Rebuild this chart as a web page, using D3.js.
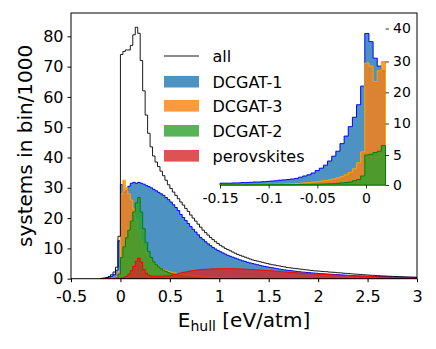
<!DOCTYPE html>
<html>
<head>
<meta charset="utf-8">
<script src="https://cdnjs.cloudflare.com/ajax/libs/d3/7.8.5/d3.min.js"></script>
<style>
body { margin: 0; background: #fff; }
text { font-family: "DejaVu Sans", sans-serif; fill: #000; }
</style>
</head>
<body>
<div id="vis-div"></div>
<script>
'use strict'

// main histogram: bins of 0.025 eV/atm starting at -0.2 (values = systems in bin / 1000)
const binStart = -0.2
const binWidth = 0.025

const allCounts = [
  0.1, 0.2, 0.4, 0.7, 1.3, 2.2, 3.8, 14,
  74, 75, 75.5, 75.5, 77, 80.5, 83, 81,
  72, 62, 54, 48, 43.5, 40.5, 38.5, 37,
  35.5, 34, 32.5, 31, 29.8, 28.6, 27.5, 26.4,
  25.3, 24.3, 23.2, 22.2, 21, 20, 19, 18,
  17, 16, 15.2, 14.4, 13.6, 12.9, 12.2, 11.6,
  11.0, 10.5, 10.0, 9.6, 9.2, 8.8, 8.4, 8.0,
  7.7, 7.4, 7.1, 6.8, 6.5, 6.2, 6.0, 5.8,
  5.6, 5.4, 5.2, 5.0, 4.8, 4.6, 4.5, 4.3,
  4.2, 4.0, 3.9, 3.7, 3.6, 3.5, 3.4, 3.3,
  3.2, 3.1, 3.0, 2.9, 2.8, 2.7, 2.6, 2.55,
  2.5, 2.4, 2.35, 2.3, 2.2, 2.15, 2.1, 2.0,
  1.95, 1.9, 1.8, 1.75, 1.7, 1.6, 1.55, 1.5,
  1.45, 1.4, 1.3, 1.25, 1.2, 1.15, 1.1, 1.05,
  1.0, 0.95, 0.9, 0.87, 0.83, 0.8, 0.75, 0.72,
  0.7, 0.66, 0.63, 0.6, 0.58, 0.55, 0.53, 0.5
]

const dcgat1Counts = [
  0.1, 0.15, 0.3, 0.5, 0.8, 1.3, 2.8, 12.5,
  31, 28.5, 29, 30.5, 31.5, 31.8, 31.5, 31.8,
  31.5, 31.2, 30.8, 30.4, 30, 29.5, 29, 28.5,
  28, 27.5, 26.8, 26.1, 25.3, 24.4, 23.5, 22.5,
  21.2, 20.2, 19.2, 18.2, 17.2, 16.3, 15.4, 14.5,
  13.6, 12.9, 12.2, 11.5, 10.9, 10.3, 9.8, 9.3,
  8.9, 8.5, 8.1, 7.7, 7.4, 7.1, 6.8, 6.5,
  6.2, 5.9, 5.7, 5.4, 5.2, 5.0, 4.8, 4.6,
  4.4, 4.2, 4.05, 3.9, 3.75, 3.6, 3.45, 3.3,
  3.15, 3.0, 2.9, 2.8, 2.7, 2.6, 2.5, 2.4,
  2.3, 2.2, 2.15, 2.05, 2.0, 1.9, 1.85, 1.8,
  1.7, 1.65, 1.6, 1.55, 1.5, 1.45, 1.4, 1.35,
  1.3, 1.25, 1.2, 1.15, 1.1, 1.05, 1.0, 0.97,
  0.93, 0.9, 0.86, 0.83, 0.8, 0.77, 0.74, 0.71,
  0.68, 0.65, 0.62, 0.6, 0.57, 0.55, 0.52, 0.5,
  0.48, 0.46, 0.44, 0.42, 0.4, 0.38, 0.36, 0.35
]

const dcgat3Counts = [
  0.02, 0.03, 0.05, 0.08, 0.12, 0.25, 0.6, 2.5,
  28, 32.5, 30, 28, 26, 23, 19.5, 16,
  12.8, 10.5, 8.8, 7.3, 6.2, 5.2, 4.5, 3.9,
  3.4, 3.0, 2.7, 2.4, 2.2, 2.0, 1.85, 1.7,
  1.55, 1.45, 1.35, 1.25, 1.15, 1.05, 0.95, 0.88,
  0.8, 0.73, 0.66, 0.6, 0.55, 0.5, 0.45, 0.4,
  0.36, 0.33, 0.3, 0.27, 0.24, 0.22, 0.2, 0.18,
  0.16, 0.14, 0.12, 0.11, 0.1, 0.09, 0.08, 0.07,
  0.06, 0.05, 0.05, 0.04, 0.04
]

const dcgat2Counts = [
  0.01, 0.01, 0.02, 0.03, 0.05, 0.1, 0.3, 1.5,
  7, 10.5, 13.5, 16, 19, 22, 25, 26.8,
  22, 16.5, 12, 9, 7, 5.6, 4.6, 3.9,
  3.3, 2.8, 2.4, 2.0, 1.75, 1.5, 1.3, 1.1,
  0.95, 0.82, 0.7, 0.6, 0.5, 0.42, 0.35, 0.3,
  0.25, 0.2, 0.16, 0.13, 0.1, 0.08, 0.06, 0.05,
  0.04
]

const perovskiteCounts = [
  0, 0, 0, 0, 0, 0, 0.02, 0.08,
  0.2, 0.4, 0.8, 1.5, 2.6, 4.0, 5.8, 6.8,
  5.5, 3.0, 1.8, 1.1, 0.9, 0.8, 0.8, 0.8,
  0.85, 0.9, 0.95, 1.0, 1.1, 1.3, 1.5, 1.7,
  1.9, 2.1, 2.25, 2.4, 2.55, 2.7, 2.8, 2.9,
  3.0, 3.05, 3.1, 3.15, 3.2, 3.25, 3.25, 3.3,
  3.3, 3.3, 3.3, 3.3, 3.3, 3.3, 3.25, 3.25,
  3.2, 3.2, 3.15, 3.1, 3.05, 3.0, 2.95, 2.9,
  2.85, 2.8, 2.75, 2.7, 2.65, 2.6, 2.5, 2.45,
  2.4, 2.3, 2.25, 2.2, 2.1, 2.05, 2.0, 1.95,
  1.9, 1.85, 1.8, 1.75, 1.7, 1.65, 1.6, 1.55,
  1.5, 1.45, 1.4, 1.35, 1.3, 1.27, 1.23, 1.2,
  1.15, 1.1, 1.07, 1.03, 1.0, 0.97, 0.93, 0.9,
  0.87, 0.84, 0.8, 0.78, 0.75, 0.72, 0.7, 0.67,
  0.65, 0.62, 0.6, 0.58, 0.55, 0.53, 0.51, 0.49,
  0.47, 0.45, 0.43, 0.41, 0.4, 0.38, 0.36, 0.35
]

// inset: zoom on -0.15 .. 0.02, 40 bins
const insetStart = -0.15
const insetBinWidth = 0.00425
const insetDcgat1 = [
  0.3, 0.3, 0.3, 0.35, 0.35, 0.4, 0.4, 0.45, 0.5, 0.5,
  0.55, 0.6, 0.65, 0.7, 0.8, 0.85, 0.9, 1.0, 1.1, 1.3,
  1.5, 1.7, 2.0, 2.4, 2.8, 3.3, 4.0, 4.8, 5.6, 6.8,
  8.0, 9.5, 12, 16, 22, 38.5, 36, 31, 28.5, 27
]
const insetDcgat3 = [
  0.05, 0.05, 0.05, 0.05, 0.05, 0.06, 0.06, 0.07, 0.08, 0.08,
  0.09, 0.1, 0.1, 0.12, 0.13, 0.15, 0.18, 0.2, 0.25, 0.3,
  0.35, 0.4, 0.5, 0.55, 0.65, 0.75, 0.85, 1.0, 1.2, 1.4,
  1.7, 2.1, 2.7, 3.7, 5.5, 29.5, 28.5, 23.5, 27, 30
]
const insetDcgat2 = [
  0.02, 0.02, 0.02, 0.02, 0.02, 0.02, 0.03, 0.03, 0.03, 0.03,
  0.04, 0.04, 0.05, 0.05, 0.05, 0.06, 0.06, 0.07, 0.08, 0.09,
  0.1, 0.1, 0.12, 0.13, 0.15, 0.17, 0.2, 0.22, 0.28, 0.35,
  0.4, 0.5, 0.7, 0.9, 1.5, 5.0, 5.1, 5.4, 5.6, 6.5
]

const legendNames = ["all", "DCGAT-1", "DCGAT-3", "DCGAT-2", "perovskites"]
const xTicks = [-0.5, 0, 0.5, 1, 1.5, 2, 2.5, 3]
const yTicks = [0, 10, 20, 30, 40, 50, 60, 70, 80]
const insetXTicks = [-0.15, -0.1, -0.05, 0]
const insetYTicks = [0, 5, 10, 20, 30, 40]

const fills = { "DCGAT-1": "#1f77b4", "DCGAT-3": "#ff7f0e", "DCGAT-2": "#2ca02c", "perovskites": "#d62728" }
const edges = { "DCGAT-1": "#0000ff", "DCGAT-3": "#ffa500", "DCGAT-2": "#008000", "perovskites": "#ff0000" }

const width = 436
const height = 349
const box = { left: 71, right: 417, top: 13, bottom: 278.7 }

const svg = d3.select("#vis-div").append("svg")
  .attr("width", width)
  .attr("height", height)
  .style("background", "#fff")

const x = d3.scaleLinear().domain([-0.5, 3]).range([box.left, box.right])
const y = d3.scaleLinear().domain([0, 87.7]).range([box.bottom, box.top])

// turn bin values into step outline points (down to 0 at both ends)
function stepPoints(values, x0, w) {
  let pts = [[x0, 0]]
  values.forEach(function(v, i) {
    pts.push([x0 + i * w, v])
  })
  let end = x0 + values.length * w
  pts.push([end, values[values.length - 1]])
  pts.push([end, 0])
  return pts
}

svg.append("clipPath").attr("id", "plot-clip")
  .append("rect")
  .attr("x", box.left).attr("y", box.top)
  .attr("width", box.right - box.left).attr("height", box.bottom - box.top)

const mainG = svg.append("g").attr("clip-path", "url(#plot-clip)")

const mainLine = d3.line()
  .x(d => x(d[0]))
  .y(d => y(d[1]))
  .curve(d3.curveStepAfter)

const mainSeries = [
  ["DCGAT-1", dcgat1Counts],
  ["DCGAT-3", dcgat3Counts],
  ["DCGAT-2", dcgat2Counts],
  ["perovskites", perovskiteCounts]
]

mainSeries.forEach(function(s) {
  mainG.append("path")
    .attr("d", mainLine(stepPoints(s[1], binStart, binWidth)) + "Z")
    .attr("fill", fills[s[0]])
    .attr("fill-opacity", 0.8)
    .attr("stroke", edges[s[0]])
    .attr("stroke-width", 1)
})

mainG.append("path")
  .attr("d", mainLine(stepPoints(allCounts, binStart, binWidth)))
  .attr("fill", "none")
  .attr("stroke", "#000")
  .attr("stroke-width", 0.9)

// axes
const xAxis = svg.append("g")
  .attr("transform", "translate(0," + box.bottom + ")")
  .call(d3.axisBottom(x).tickValues(xTicks).tickSize(3.5).tickPadding(8).tickFormat(d => String(d)))
const yAxis = svg.append("g")
  .attr("transform", "translate(" + box.left + ",0)")
  .call(d3.axisLeft(y).tickValues(yTicks).tickSize(3.5).tickPadding(4).tickFormat(d => String(d)))

;[xAxis, yAxis].forEach(function(a) {
  a.select(".domain").remove()
  a.selectAll(".tick line").attr("stroke", "#000").attr("stroke-width", 1)
  a.selectAll(".tick text").attr("font-size", 16).attr("font-family", "DejaVu Sans").attr("fill", "#000")
})

svg.append("rect")
  .attr("x", box.left).attr("y", box.top)
  .attr("width", box.right - box.left).attr("height", box.bottom - box.top)
  .attr("fill", "none")
  .attr("stroke", "#000")
  .attr("stroke-width", 1)

// axis labels
svg.append("text")
  .attr("transform", "translate(31.5," + ((box.top + box.bottom) / 2) + ") rotate(-90)")
  .attr("text-anchor", "middle")
  .attr("font-size", 20)
  .text("systems in bin/1000")

const xLabel = svg.append("text")
  .attr("x", (box.left + box.right) / 2)
  .attr("y", 327)
  .attr("text-anchor", "middle")
  .attr("font-size", 20)
xLabel.append("tspan").text("E")
xLabel.append("tspan").attr("font-size", 14).attr("dy", 4).text("hull")
xLabel.append("tspan").attr("dy", -4).text(" [eV/atm]")

// legend
const legendY = [56, 81.7, 105.8, 130.8, 155.8]
const legend = svg.append("g")
legendNames.forEach(function(name, i) {
  let cy = legendY[i]
  if (name == "all") {
    legend.append("line")
      .attr("x1", 164).attr("x2", 199)
      .attr("y1", cy).attr("y2", cy)
      .attr("stroke", "#000").attr("stroke-width", 0.9)
  } else {
    legend.append("rect")
      .attr("x", 164).attr("y", cy - 5.8)
      .attr("width", 35).attr("height", 11.6)
      .attr("fill", fills[name]).attr("fill-opacity", 0.8)
  }
  legend.append("text")
    .attr("x", 212.5)
    .attr("y", cy + 6)
    .attr("font-size", 16)
    .text(name)
})

// inset (no frame, transparent)
const ix = d3.scaleLinear().domain([-0.15, 0.02]).range([220, 385.5])
const iy = d3.scaleLinear().domain(insetYTicks).range([185, 155, 123.5, 92.3, 61.5, 28.5])

const insetLine = d3.line()
  .x(d => ix(d[0]))
  .y(d => iy(d[1]))
  .curve(d3.curveStepAfter)

const inset = svg.append("g")
const insetSeries = [
  ["DCGAT-1", insetDcgat1],
  ["DCGAT-3", insetDcgat3],
  ["DCGAT-2", insetDcgat2]
]
insetSeries.forEach(function(s) {
  inset.append("path")
    .attr("d", insetLine(stepPoints(s[1], insetStart, insetBinWidth)) + "Z")
    .attr("fill", fills[s[0]])
    .attr("fill-opacity", 0.8)
    .attr("stroke", edges[s[0]])
    .attr("stroke-width", 1)
})

const ixAxis = inset.append("g")
  .attr("transform", "translate(0,185)")
  .call(d3.axisBottom(ix).tickValues(insetXTicks).tickSize(3.5).tickPadding(5).tickFormat(d => String(d)))
const iyAxis = inset.append("g")
  .attr("transform", "translate(385.5,0)")
  .call(d3.axisRight(iy).tickValues(insetYTicks).tickSize(3.5).tickPadding(4).tickFormat(d => String(d)))

;[ixAxis, iyAxis].forEach(function(a) {
  a.select(".domain").remove()
  a.selectAll(".tick line").attr("stroke", "#000").attr("stroke-width", 0.8)
  a.selectAll(".tick text").attr("font-size", 14).attr("font-family", "DejaVu Sans").attr("fill", "#000")
})
</script>
</body>
</html>
